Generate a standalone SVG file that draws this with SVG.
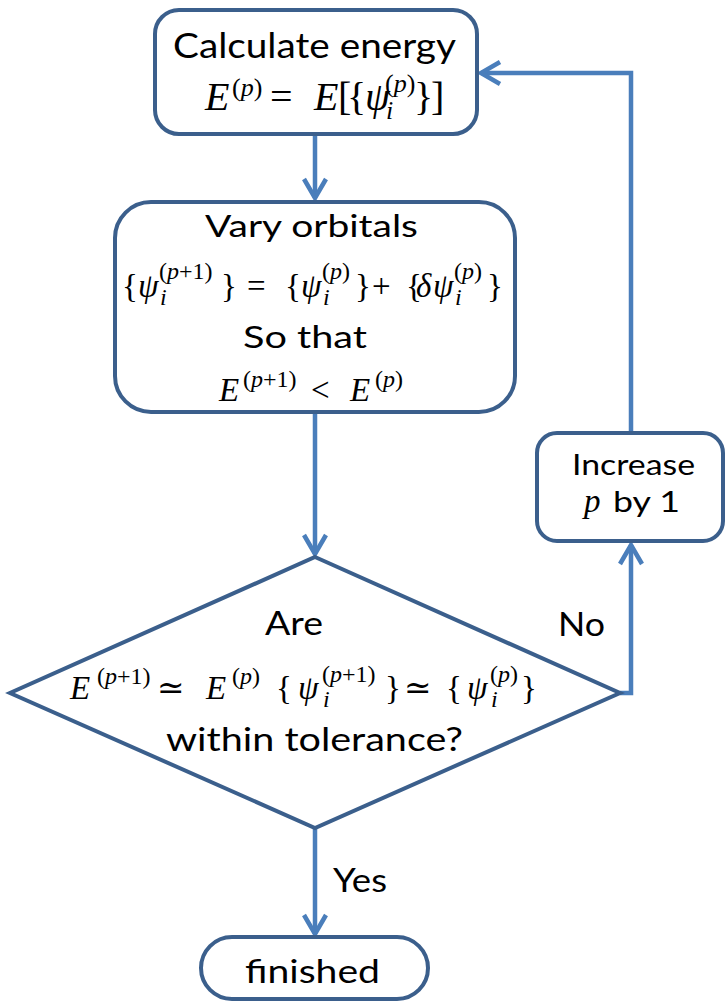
<svg xmlns="http://www.w3.org/2000/svg" width="726" height="1002" viewBox="0 0 726 1002">
<style>
.box{fill:#fff;stroke:#3B5F8C;stroke-width:4}
.con{fill:none;stroke:#4A7EBB;stroke-width:4.5}
.t{font-family:Lato,"Open Sans",sans-serif;fill:#000;text-anchor:middle}
.m{font-family:"Liberation Serif","DejaVu Serif",serif;fill:#000}
.it{font-style:italic}
</style>
<defs>
<marker id="arr" markerUnits="userSpaceOnUse" markerWidth="30" markerHeight="30" viewBox="-25 -15 30 30" refX="0" refY="0" orient="auto">
<path d="M-19,-11 L0,0 L-19,11" fill="none" stroke="#4A7EBB" stroke-width="4.5"/>
</marker>
</defs>
<rect width="726" height="1002" fill="#fff"/>
<g id="connectors">
<path class="con" d="M315,135 V198" marker-end="url(#arr)"/>
<path class="con" d="M315,412 V554" marker-end="url(#arr)"/>
<path class="con" d="M620,693 H631 V545" marker-end="url(#arr)"/>
<path class="con" d="M631,433 V73 H481" marker-end="url(#arr)"/>
<path class="con" d="M315,828 V934" marker-end="url(#arr)"/>
<text class="t" x="360" y="892" font-size="33" textLength="54" lengthAdjust="spacingAndGlyphs">Yes</text>
<text class="t" x="581.5" y="636" font-size="33" textLength="47" lengthAdjust="spacingAndGlyphs">No</text>
</g>
<g id="calc">
<rect class="box" x="155" y="10" width="322" height="124" rx="24"/>
<text class="t" x="314.5" y="58" font-size="35" textLength="283" lengthAdjust="spacingAndGlyphs">Calculate energy</text>
<text class="m" font-size="40">
<tspan class="it" x="205" y="110">E</tspan>
<tspan x="232" y="96" font-size="26">(<tspan class="it">p</tspan>)</tspan>
<tspan x="270" y="110">=</tspan>
<tspan class="it" x="314" y="110">E</tspan>
<tspan x="338" y="110">[</tspan>
<tspan x="347" y="110">{</tspan>
<tspan class="it" x="365" y="110">ψ</tspan>
<tspan x="385" y="92" font-size="26">(<tspan class="it">p</tspan>)</tspan>
<tspan class="it" x="386" y="119" font-size="26">i</tspan>
<tspan x="414" y="110">}</tspan>
<tspan x="431" y="110">]</tspan>
</text>
</g>
<g id="vary">
<rect class="box" x="115" y="202" width="400" height="210" rx="36"/>
<text class="t" x="311.5" y="237" font-size="30" textLength="213" lengthAdjust="spacingAndGlyphs">Vary orbitals</text>
<text class="m" font-size="33">
<tspan x="122" y="297">{</tspan>
<tspan class="it" x="138" y="297">ψ</tspan>
<tspan x="159" y="279" font-size="24">(<tspan class="it">p</tspan>+1)</tspan>
<tspan class="it" x="160" y="305" font-size="24">i</tspan>
<tspan x="221" y="297">}</tspan>
<tspan x="247" y="297">=</tspan>
<tspan x="285" y="297">{</tspan>
<tspan class="it" x="301" y="297">ψ</tspan>
<tspan x="322" y="279" font-size="24">(<tspan class="it">p</tspan>)</tspan>
<tspan class="it" x="323" y="305" font-size="24">i</tspan>
<tspan x="355" y="297">}</tspan>
<tspan x="372" y="297">+</tspan>
<tspan x="406" y="297">{</tspan>
<tspan class="it" x="416" y="297">δ</tspan>
<tspan class="it" x="433" y="297">ψ</tspan>
<tspan x="454" y="279" font-size="24">(<tspan class="it">p</tspan>)</tspan>
<tspan class="it" x="455" y="305" font-size="24">i</tspan>
<tspan x="487" y="297">}</tspan>
</text>
<text class="t" x="305" y="348" font-size="30" textLength="124" lengthAdjust="spacingAndGlyphs">So that</text>
<text class="m" font-size="33">
<tspan class="it" x="219" y="401">E</tspan>
<tspan x="243" y="387" font-size="24">(<tspan class="it">p</tspan>+1)</tspan>
<tspan x="311" y="401">&lt;</tspan>
<tspan class="it" x="350" y="401">E</tspan>
<tspan x="375" y="387" font-size="24">(<tspan class="it">p</tspan>)</tspan>
</text>
</g>
<g id="decision">
<polygon class="box" points="315,557 620,693 315,828 10,693"/>
<text class="t" x="294" y="635" font-size="33" textLength="58" lengthAdjust="spacingAndGlyphs">Are</text>
<text class="m" font-size="33">
<tspan class="it" x="70" y="699">E</tspan>
<tspan x="97" y="684" font-size="24">(<tspan class="it">p</tspan>+1)</tspan>
<tspan x="157" y="699">≃</tspan>
<tspan class="it" x="206" y="699">E</tspan>
<tspan x="232" y="684" font-size="24">(<tspan class="it">p</tspan>)</tspan>
<tspan x="276" y="699">{</tspan>
<tspan class="it" x="298" y="699">ψ</tspan>
<tspan x="322" y="682" font-size="24">(<tspan class="it">p</tspan>+1)</tspan>
<tspan class="it" x="323" y="707" font-size="24">i</tspan>
<tspan x="385" y="699">}</tspan>
<tspan x="404" y="699">≃</tspan>
<tspan x="446" y="699">{</tspan>
<tspan class="it" x="467" y="699">ψ</tspan>
<tspan x="490" y="682" font-size="24">(<tspan class="it">p</tspan>)</tspan>
<tspan class="it" x="491" y="707" font-size="24">i</tspan>
<tspan x="521" y="699">}</tspan>
</text>
<text class="t" x="314.5" y="751" font-size="33" textLength="297" lengthAdjust="spacingAndGlyphs">within tolerance?</text>
</g>
<g id="increase">
<rect class="box" x="537" y="433" width="186" height="108" rx="20"/>
<text class="t" x="633.5" y="475" font-size="29" textLength="123" lengthAdjust="spacingAndGlyphs">Increase</text>
<text class="m it" x="584" y="512" font-size="33">p</text>
<text class="t" x="646.5" y="512" font-size="29" textLength="67" lengthAdjust="spacingAndGlyphs">by 1</text>
</g>
<g id="finished">
<rect class="box" x="201" y="937" width="227" height="62" rx="31"/>
<text class="t" x="312.5" y="983" font-size="33" textLength="135" lengthAdjust="spacingAndGlyphs">finished</text>
</g>
</svg>
